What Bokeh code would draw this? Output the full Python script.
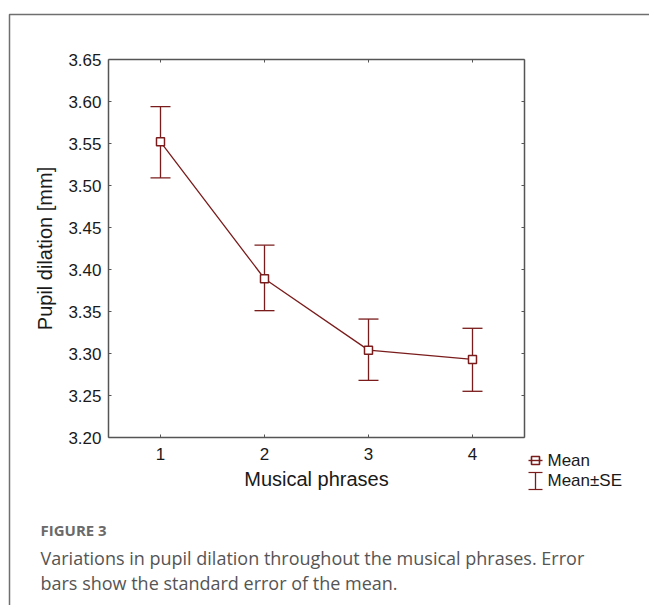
from bokeh.plotting import figure
from bokeh.models import (ColumnDataSource, Whisker, TeeHead, LinearAxis, FixedTicker,
                          Label, BoxAnnotation, Range1d)
from bokeh.embed import file_html
from bokeh.resources import INLINE

# ---- data ----
phrases = [1, 2, 3, 4]
mean = [3.552, 3.389, 3.304, 3.293]
upper = [3.594, 3.429, 3.341, 3.330]
lower = [3.509, 3.351, 3.268, 3.255]
x_tick_labels = ["1", "2", "3", "4"]
y_ticks = [3.20, 3.25, 3.30, 3.35, 3.40, 3.45, 3.50, 3.55, 3.60, 3.65]
y_tick_labels = ["3.20", "3.25", "3.30", "3.35", "3.40", "3.45", "3.50", "3.55", "3.60", "3.65"]
x_title = "Musical phrases"
y_title = "Pupil dilation [mm]"
legend_labels = ["Mean", "Mean±SE"]
fig_label = "FIGURE 3"
caption_lines = ["Variations in pupil dilation throughout the musical phrases. Error",
                 "bars show the standard error of the mean."]

# ---- layout (pixels) ----
W, H = 649, 605
BOX_L, BOX_R, BOX_T, BOX_B = 108, 524, 59, 437
X0, X1 = 0.5, 4.5
Y0, Y1 = 3.20, 3.65

RED = "#7a1c1c"
AX = "#555555"
FONT = "Liberation Sans"

# ranges chosen so that the data box sits at BOX_* while the frame fills the canvas
xs = (X1 - X0) / (BOX_R - BOX_L)
ys = (Y1 - Y0) / (BOX_B - BOX_T)
x_range = Range1d(X0 - BOX_L * xs, X1 + (W - BOX_R) * xs)
y_range = Range1d(Y0 - (H - BOX_B) * ys, Y1 + BOX_T * ys)

src = ColumnDataSource(dict(x=phrases, mean=mean, upper=upper, lower=lower))

p = figure(width=W, height=H, x_range=x_range, y_range=y_range,
           output_backend="svg", toolbar_location=None,
           min_border=0, x_axis_location=None, y_axis_location=None)
p.grid.visible = False
p.outline_line_color = None
p.background_fill_color = "white"
p.border_fill_color = "white"


def style_axis(ax, ticks, labels, show_labels):
    ax.ticker = FixedTicker(ticks=ticks)
    if show_labels:
        ax.major_label_overrides = {t: l for t, l in zip(ticks, labels)}
    else:
        ax.major_label_overrides = {t: "" for t in ticks}
    ax.major_tick_in = 3
    ax.major_tick_out = 0
    ax.minor_tick_line_color = None
    ax.axis_line_color = AX
    ax.axis_line_width = 1.5
    ax.major_tick_line_color = AX
    ax.major_label_text_font = FONT
    ax.major_label_text_font_size = "17px"
    ax.major_label_text_color = "#1a1a1a"
    ax.axis_label_text_font = FONT
    ax.axis_label_text_font_size = "20px"
    ax.axis_label_text_font_style = "normal"
    ax.axis_label_text_color = "#1a1a1a"


xb = LinearAxis(axis_label=x_title, fixed_location=Y0, bounds=(X0, X1))
style_axis(xb, phrases, x_tick_labels, True)
xb.major_label_standoff = 10
xb.axis_label_standoff = 5
p.add_layout(xb, "below")

yl = LinearAxis(axis_label=y_title, fixed_location=X0, bounds=(Y0, Y1))
style_axis(yl, y_ticks, y_tick_labels, True)
yl.major_label_standoff = 7
yl.axis_label_standoff = 9
p.add_layout(yl, "left")

xt = LinearAxis(fixed_location=Y1, bounds=(X0, X1))
style_axis(xt, phrases, x_tick_labels, False)
p.add_layout(xt, "above")
yr = LinearAxis(fixed_location=X1, bounds=(Y0, Y1))
style_axis(yr, y_ticks, y_tick_labels, False)
p.add_layout(yr, "right")

# error bars
wh = Whisker(source=src, base="x", upper="upper", lower="lower",
             line_color=RED, line_width=1.3,
             upper_head=TeeHead(size=20, line_color=RED, line_width=1.3),
             lower_head=TeeHead(size=20, line_color=RED, line_width=1.3))
p.add_layout(wh)

p.line("x", "mean", source=src, line_color=RED, line_width=1.3)
p.scatter("x", "mean", source=src, marker="square", size=8, line_color=RED,
          line_width=1.5, fill_color="white")

U = "screen"


def sbox(l, r, t, b, **kw):
    """box given in top-down canvas pixels"""
    p.add_layout(BoxAnnotation(left=l, right=r, top=H - t, bottom=H - b,
                               left_units=U, right_units=U, top_units=U, bottom_units=U,
                               **kw))


# legend icons (outside the data box)
LX, LY1, LY2 = 535, 460, 480
thin = dict(fill_color=RED, fill_alpha=1, line_color=None)
# "Mean": open square with a line through it
sbox(LX - 4, LX + 4, LY1 - 4, LY1 + 4, fill_color="white", fill_alpha=1,
     line_color=RED, line_alpha=1, line_width=1.6)
sbox(LX - 7, LX + 7, LY1 - 0.7, LY1 + 0.7, **thin)
# "Mean±SE": I-shaped whisker
sbox(LX - 0.65, LX + 0.65, LY2 - 8, LY2 + 9, **thin)
sbox(LX - 7, LX + 7, LY2 - 8.6, LY2 - 7.4, **thin)
sbox(LX - 7, LX + 7, LY2 + 8.4, LY2 + 9.6, **thin)

for i, t in enumerate(legend_labels):
    p.add_layout(Label(x=547, y=H - (LY1 + (LY2 - LY1) * i), x_units=U, y_units=U,
                       text=t, text_color="#1a1a1a", text_font=FONT, text_font_size="17px",
                       text_align="left", text_baseline="middle"))

# caption
CAP_X = 40
p.add_layout(Label(x=CAP_X, y=H - 529, x_units=U, y_units=U, text=fig_label,
                   text_color="#6a6a6a", text_font="Open Sans", text_font_size="15px",
                   text_font_style="bold", text_align="left", text_baseline="middle"))
for i, t in enumerate(caption_lines):
    p.add_layout(Label(x=CAP_X, y=H - (557 + 25 * i), x_units=U, y_units=U,
                       text=t, text_color="#555555", text_font="Open Sans",
                       text_font_size="18px", text_align="left", text_baseline="middle"))

# outer frame
p.add_layout(BoxAnnotation(left=9, right=W + 50, top=H - 14, bottom=-50,
                           left_units=U, right_units=U, top_units=U, bottom_units=U,
                           fill_alpha=0, line_color="#6f6f6f", line_alpha=1,
                           line_width=1.5))

open("out.html", "w").write(file_html(p, INLINE))
